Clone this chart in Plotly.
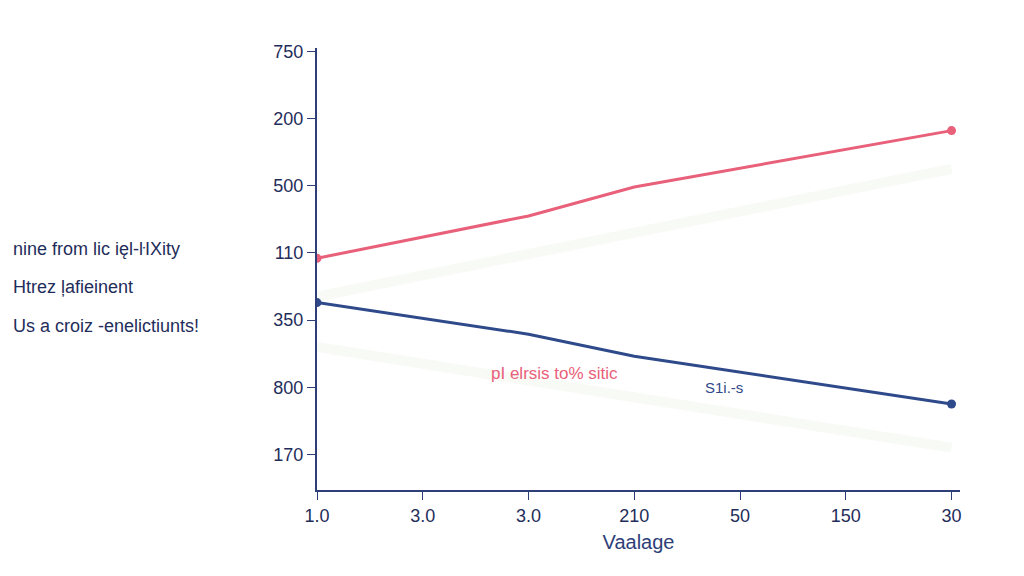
import plotly.graph_objects as go

x_pos = [0, 1, 2, 3, 4, 5, 6]
x_labels = ["1.0", "3.0", "3.0", "210", "50", "150", "30"]
y_pos = [0, 1, 2, 3, 4, 5, 6]
y_labels = ["170", "800", "350", "110", "500", "200", "750"]

pink_x = [0, 2, 3, 6]
pink_y = [2.92, 3.55, 3.98, 4.82]
blue_x = [0, 2, 3, 6]
blue_y = [2.26, 1.79, 1.46, 0.75]
shadow1_y = [2.35, 4.25]
shadow2_y = [1.6, 0.1]

names = ["nine from lic ięl-ŀIXity", "Htrez ļafieinent", "Us a croiz ‐enelictiunts!"]
colors = ["#e8607a", "#f2c83a", "#2f4a8a"]
navy = "#2d3e78"

fig = go.Figure()
fig.add_trace(go.Scatter(x=[0, 6], y=shadow1_y, mode="lines", line=dict(color="rgba(215,225,200,0.18)", width=10), showlegend=False))
fig.add_trace(go.Scatter(x=[0, 6], y=shadow2_y, mode="lines", line=dict(color="rgba(215,225,200,0.18)", width=10), showlegend=False))
fig.add_trace(go.Scatter(x=pink_x, y=pink_y, mode="lines", line=dict(color=colors[0], width=3), showlegend=False))
fig.add_trace(go.Scatter(x=blue_x, y=blue_y, mode="lines", line=dict(color=colors[2], width=3), showlegend=False))
fig.add_trace(go.Scatter(x=[pink_x[0], pink_x[-1]], y=[pink_y[0], pink_y[-1]], mode="markers", marker=dict(color=colors[0], size=9), showlegend=False))
fig.add_trace(go.Scatter(x=[blue_x[0], blue_x[-1]], y=[blue_y[0], blue_y[-1]], mode="markers", marker=dict(color=colors[2], size=9), showlegend=False))
for i, (n, c) in enumerate(zip(names, colors)):
    fig.add_trace(go.Scatter(x=[None], y=[None], mode="markers", name=n, legendgroup=f"g{i}",
                             marker=dict(color=c, size=16)))

fig.add_annotation(x=2.25, y=1.2, text="pI elrsis to% sitic", showarrow=False, font=dict(color=colors[0], size=17))
fig.add_annotation(x=3.85, y=1.0, text="S1i.-s", showarrow=False, font=dict(color=colors[2], size=15))

fig.update_layout(
    width=1024, height=576, paper_bgcolor="white", plot_bgcolor="white",
    margin=dict(l=309, r=72, t=40, b=94, autoexpand=False),
    font=dict(family="Liberation Sans", color="#1f2d5a", size=18),
    legend=dict(x=-0.535, y=0.46, xanchor="left", yanchor="middle", font=dict(size=18, color="#1f2d5a"),
                itemsizing="constant", tracegroupgap=12, traceorder="grouped"),
    xaxis=dict(range=[0, 6.08], tickvals=x_pos, ticktext=x_labels, showgrid=False, zeroline=False,
               showline=True, linecolor=navy, linewidth=2, ticks="outside", tickcolor=navy, ticklen=8,
               title=dict(text="Vaalage", font=dict(size=20, color=navy), standoff=10)),
    yaxis=dict(range=[-0.53, 6.05], tickvals=y_pos, ticktext=y_labels, showgrid=False, zeroline=False,
               showline=True, linecolor=navy, linewidth=2, ticks="outside", tickcolor=navy, ticklen=8),
)
fig.write_html("out.html")
